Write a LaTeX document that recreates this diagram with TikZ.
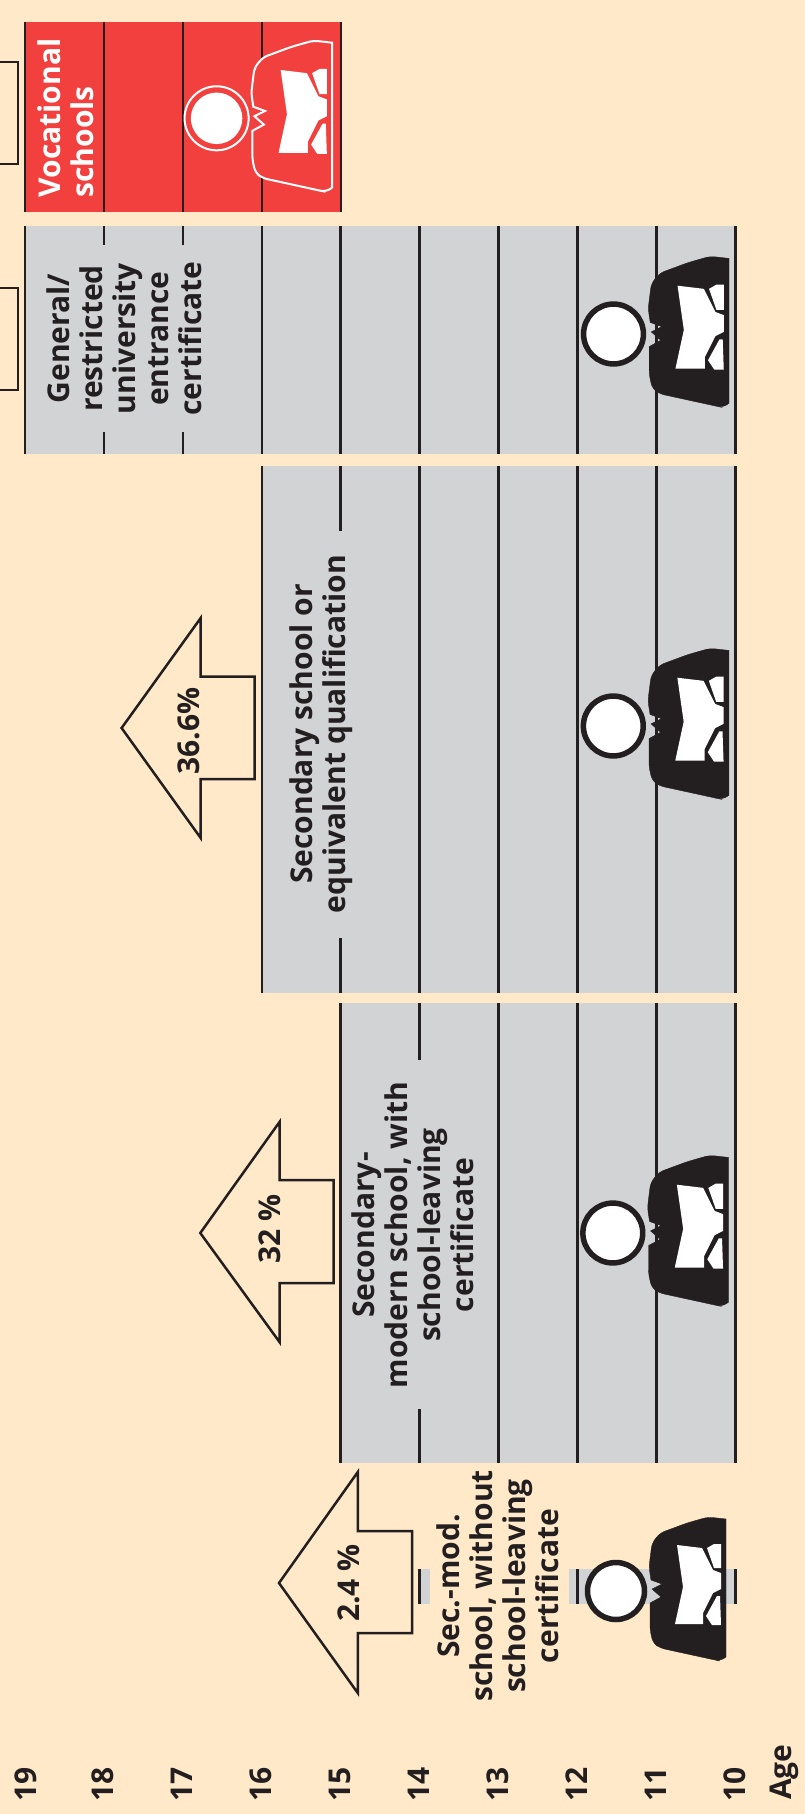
\documentclass[tikz,border=0pt]{standalone}
\usepackage{fontspec}
\setmainfont{Open Sans}
\usepackage{xcolor}
\usepackage{tikz}
\definecolor{paper}{HTML}{FFE9C9}
\definecolor{slab}{HTML}{D1D3D4}
\definecolor{voc}{HTML}{F2403F}
\definecolor{ink}{HTML}{231F20}
\newcommand{\pupilbody}{(110,-72) [rounded corners=5pt] -- (92,-74) -- (71,-68) -- (44,-58) -- (36,-48) -- (33,-24) [sharp corners] -- (35,-11) -- (46,-7) -- (36,-2) -- (45,6) -- (34,12) [rounded corners=5pt] -- (34,39) -- (37,52) -- (44,57) -- (99,69) -- (104,70) [sharp corners] -- (110,66) -- cycle}
\newcommand{\pupilshirt}{
  \fill[white] (61,-46) -- (86,-43) -- (97,-21) -- (105,-18) -- (105,-2) -- (97,2) -- (87,22) -- (87,33) -- (59,33) -- (67,-4) -- cycle;
  \fill[white] (91,-43) -- (98,-47) -- (105,-47) -- (105,-23) -- (98,-23) -- cycle;
  \fill[white] (101,5) -- (104,5) -- (105,34) -- (96,34) -- (90,25) -- cycle;
}
\begin{document}
\begin{tikzpicture}[
    x=1pt, y=-1pt,
    ageline/.style={ink, line width=2.2pt},
    pointer/.style={draw=ink, line width=2.5pt, line join=miter},
    sidebox/.style={ink, line width=2.2pt},
    label/.style={rotate=90, align=center, text=ink, inner sep=0pt, font=\fontsize{30}{33}\selectfont\bfseries},
    agelabel/.style={rotate=90, anchor=base, text=ink, inner sep=0pt, font=\fontsize{30}{33}\selectfont\bfseries},
    pupil/.pic={
      \filldraw[ink] \pupilbody;
      \pupilshirt
      \filldraw[fill=white, draw=ink, line width=5.5pt] (0,0) circle (28.5);
    },
    pupilvoc/.pic={
      \filldraw[fill=voc, draw=white, line width=2pt] \pupilbody;
      \pupilshirt
      \draw[white, line width=2pt] (0,0) circle (30.5);
      \fill[white] (0,0) circle (24.5);
    }
]
\useasboundingbox (0,0) rectangle (805,1814);
\fill[paper] (0,0) rectangle (805,1814);

% boxes cut by the left edge
\draw[sidebox] (0,62) -- (18,62) -- (18,164) -- (0,164);
\draw[sidebox] (0,288) -- (18,288) -- (18,390) -- (0,390);

% vocational schools
\fill[voc] (23.5,22) rectangle (342,212);
\draw[ageline] (24.6,22) -- (24.6,212) (104,22) -- (104,212) (183,22) -- (183,212) (262,22) -- (262,212) (341,22) -- (341,212);
\pic[scale=1.05] (pupilv) at (216.6,118.3) {pupilvoc};
\node[label, align=left, text=white] (vocational) at (66,118) {Vocational\\schools};

% general university entrance
\fill[slab] (23.5,226) rectangle (736.5,453.5);
\draw[ageline] (24.6,226) -- (24.6,453.5) (104,226) -- (104,245) (104,432) -- (104,453.5) (183,226) -- (183,245) (183,432) -- (183,453.5);
\draw[ageline] (262,226) -- (262,453.5) (340.5,226) -- (340.5,453.5) (419.5,226) -- (419.5,453.5) (498.5,226) -- (498.5,453.5) (577.5,226) -- (577.5,453.5) (656.5,226) -- (656.5,453.5) (735.5,226) -- (735.5,453.5);
\pic[scale=1.05] (pupilg) at (613.5,334) {pupil};
\node[label] (general) at (124,338.5) {General/\\restricted\\university\\entrance\\certificate};

% secondary school
\fill[slab] (261,466) rectangle (736.5,993);
\draw[ageline] (262,466) -- (262,993) (340.5,466) -- (340.5,531) (340.5,938) -- (340.5,993);
\draw[ageline] (419.5,466) -- (419.5,993) (498.5,466) -- (498.5,993) (577.5,466) -- (577.5,993) (656.5,466) -- (656.5,993) (735.5,466) -- (735.5,993);
\pic[scale=1.05] (pupils) at (613.3,726) {pupil};
\node[label] (secondary) at (321,734) {Secondary school or\\equivalent qualification};
\draw[pointer] (121.6,728) -- (200.7,618) -- (200.7,676.7) -- (254.6,676.7) -- (254.6,779) -- (200.7,779) -- (200.7,838) -- cycle;
\node[agelabel] (share366) at (199.5,731) {36.6\%};

% secondary-modern school, with certificate
\fill[slab] (339.5,1003) rectangle (736.5,1462.5);
\draw[ageline] (340.5,1003) -- (340.5,1462.5) (419.5,1003) -- (419.5,1060) (419.5,1409) -- (419.5,1462.5);
\draw[ageline] (498.5,1003) -- (498.5,1462.5) (577.5,1003) -- (577.5,1462.5) (656.5,1003) -- (656.5,1462.5) (735.5,1003) -- (735.5,1462.5);
\pic[scale=1.05] (pupilm) at (612.8,1233) {pupil};
\node[label] (modern) at (413,1235) {Secondary-\\modern school, with\\school-leaving\\certificate};
\draw[pointer] (200.3,1233) -- (279.5,1122) -- (279.5,1180) -- (333.5,1180) -- (333.5,1283) -- (279.5,1283) -- (279.5,1342) -- cycle;
\node[agelabel] (share32) at (280,1229) {32 \%};

% secondary-modern school, without certificate
\fill[slab] (418.5,1569) rectangle (430,1604);
\fill[slab] (569,1569) rectangle (736.5,1604);
\draw[ageline] (419.5,1569) -- (419.5,1604) (577.5,1569) -- (577.5,1604) (735.5,1569) -- (735.5,1604);
\pic (pupilw) at (616,1591) {pupil};
\node[label] (without) at (498,1586) {Sec.-mod.\\school, without\\school-leaving\\certificate};
\draw[pointer] (279,1583) -- (357.8,1472) -- (357.8,1531) -- (412,1531) -- (412,1633) -- (357.8,1633) -- (357.8,1693) -- cycle;
\node[agelabel] (share24) at (359,1583) {2.4 \%};

% age axis
\node[agelabel] (a19) at (36,1784) {19};
\node[agelabel] (a18) at (113,1784) {18};
\node[agelabel] (a17) at (192,1784) {17};
\node[agelabel] (a16) at (271,1784) {16};
\node[agelabel] (a15) at (350,1784) {15};
\node[agelabel] (a14) at (429,1784) {14};
\node[agelabel] (a13) at (508,1784) {13};
\node[agelabel] (a12) at (587,1784) {12};
\node[agelabel] (a11) at (666,1784) {11};
\node[agelabel] (a10) at (745,1784) {10};
\node[agelabel] (age) at (791,1772) {Age};
\end{tikzpicture}
\end{document}
